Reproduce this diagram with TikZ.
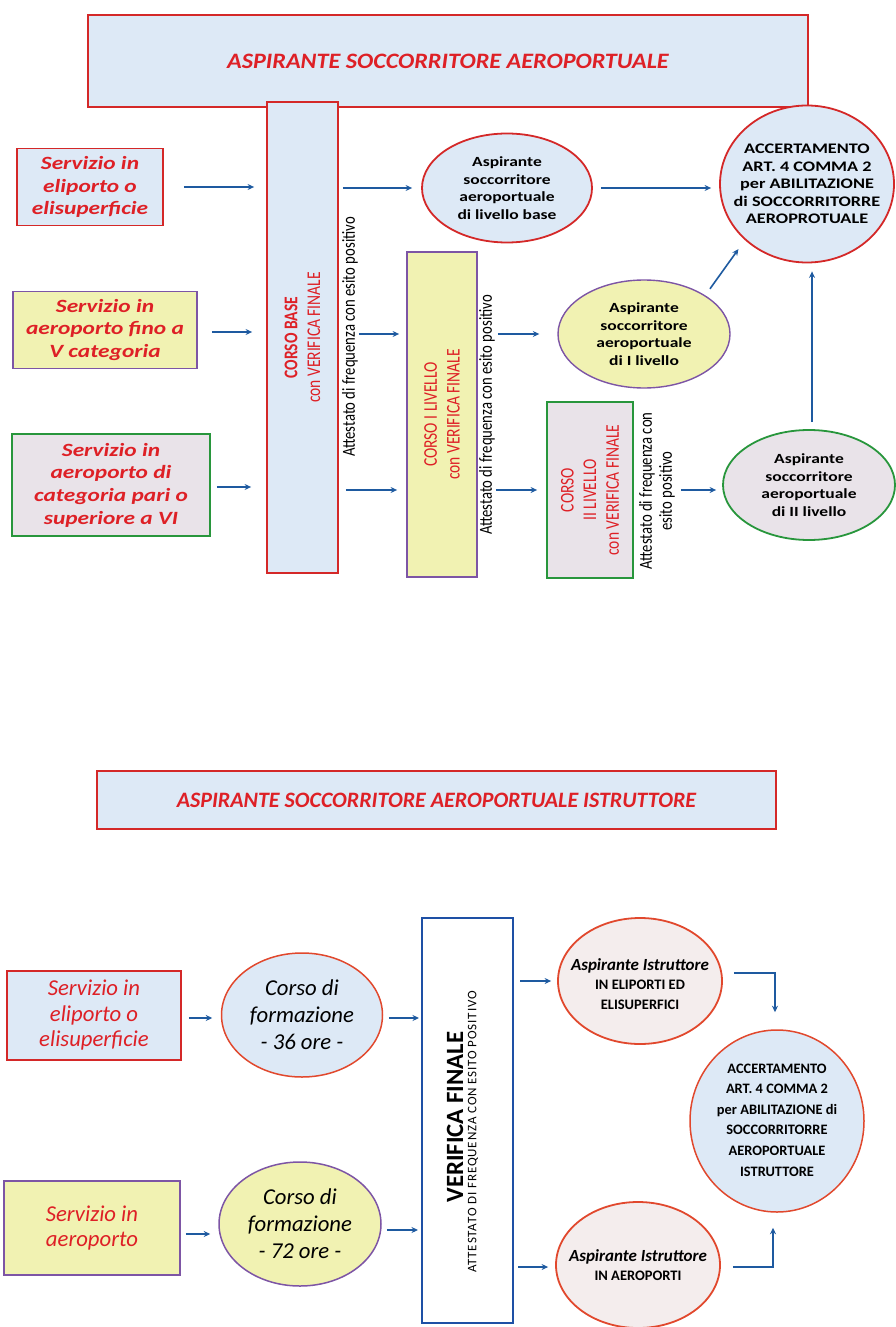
\documentclass[tikz,border=0pt]{standalone}
\usepackage{fontspec}
\setmainfont{Carlito}
\newfontfamily\wfont[FakeStretch=1.25]{Carlito}
\newfontfamily\nfont[FakeStretch=0.8]{Carlito}
\newfontfamily\tfont[FakeStretch=1.1]{Carlito}
\newfontfamily\lsfont[LetterSpace=6.5]{Carlito}
\usetikzlibrary{shapes.geometric,arrows.meta}
\definecolor{txtred}{RGB}{222,32,38}
\definecolor{bred}{RGB}{212,40,40}
\definecolor{bored}{RGB}{225,72,45}
\definecolor{bpurple}{RGB}{125,85,165}
\definecolor{bgreen}{RGB}{40,150,60}
\definecolor{bblue}{RGB}{30,80,165}
\definecolor{arrblue}{RGB}{30,90,160}
\definecolor{lblue}{RGB}{221,233,246}
\definecolor{lyellow}{RGB}{241,242,178}
\definecolor{lgrey}{RGB}{233,227,233}
\definecolor{lpink}{RGB}{244,237,237}
\begin{document}
\begin{tikzpicture}[x=1bp,y=-1bp,
  box/.style={draw, line width=1.8bp, rectangle, inner sep=0pt},
  ell/.style={draw, line width=1.8bp, ellipse, inner sep=0pt},
  arr/.style={draw=arrblue, line width=1.6bp, -{Stealth[length=6.5bp,width=6bp]}},
  lefttxt/.style={text=txtred, align=center, font=\wfont\fontsize{18.7bp}{22.7bp}\selectfont\bfseries\itshape},
  lefttxtb/.style={text=txtred, align=center, font=\fontsize{22.7bp}{25.5bp}\selectfont\itshape},
  etxt/.style={align=center, inner sep=0pt, font=\wfont\fontsize{14bp}{17.6bp}\selectfont\bfseries},
  bartxt/.style={rotate=90, align=center, inner sep=0pt, text=txtred, font=\nfont\fontsize{19.4bp}{22.7bp}\selectfont},
  attxt/.style={rotate=90, align=center, inner sep=0pt, font=\nfont\fontsize{18.4bp}{20bp}\selectfont},
  ktxt/.style={align=center, inner sep=0pt, font=\fontsize{22.7bp}{27bp}\selectfont\itshape},
  itxt/.style={align=center, inner sep=0pt, font=\fontsize{14.5bp}{19.5bp}\selectfont\bfseries},
]
\useasboundingbox (0,0) rectangle (895,1327);

% ---------- titles ----------
\node[box, draw=bred, fill=lblue, minimum width=720bp, minimum height=92bp,
      text=txtred, font=\tfont\fontsize{22bp}{26bp}\selectfont\bfseries\itshape] (t1) at (448,61)
      {ASPIRANTE SOCCORRITORE AEROPORTUALE};
\node[box, draw=bred, fill=lblue, line width=1.5bp, minimum width=679bp, minimum height=58bp,
      text=txtred, font=\fontsize{22bp}{26bp}\selectfont\bfseries\itshape] (t2) at (436.5,800)
      {ASPIRANTE SOCCORRITORE AEROPORTUALE ISTRUTTORE};

% ---------- top section: left boxes ----------
\node[box, draw=bred, fill=lblue, minimum width=146bp, minimum height=77bp, lefttxt] (s1) at (90,187)
  {Servizio in\\eliporto o\\elisuperficie};
\node[box, draw=bpurple, fill=lyellow, minimum width=184bp, minimum height=77bp, lefttxt] (s2) at (105,330)
  {Servizio in\\aeroporto fino a\\V categoria};
\node[box, draw=bgreen, fill=lgrey, minimum width=198bp, minimum height=102bp, lefttxt] (s3) at (111,485)
  {Servizio in\\aeroporto di\\categoria pari o\\superiore a VI};

% ---------- bars ----------
\node[box, draw=bred, fill=lblue, minimum width=71bp, minimum height=471bp] (base) at (302.5,337.5) {};
\node[bartxt] (baset) at (base) {\bfseries CORSO BASE\\con VERIFICA FINALE};
\node[attxt] (at1) at (350,337) {Attestato di frequenza con esito positivo};

\node[box, draw=bpurple, fill=lyellow, minimum width=70bp, minimum height=325bp] (c1) at (442,414.5) {};
\node[bartxt] (c1t) at (c1) {CORSO I LIVELLO\\con VERIFICA FINALE};
\node[attxt] (at2) at (487,415) {Attestato di frequenza con esito positivo};

\node[box, draw=bgreen, fill=lgrey, minimum width=86bp, minimum height=176bp] (c2) at (590,490) {};
\node[bartxt] (c2t) at (c2) {CORSO\\II LIVELLO\\con VERIFICA FINALE};
\node[attxt] (at3) at (657,491) {Attestato di frequenza con\\esito positivo};

% ---------- ellipses ----------
\node[ell, draw=bred, fill=lblue, minimum width=170bp, minimum height=109bp] (e1) at (507,188) {};
\node[etxt] (e1t) at (e1) {Aspirante\\soccorritore\\aeroportuale\\di livello base};

\node[ell, draw=bpurple, fill=lyellow, line width=1.4bp, minimum width=172bp, minimum height=108bp] (e2) at (644,334) {};
\node[etxt] (e2t) at (e2) {Aspirante\\soccorritore\\aeroportuale\\di I livello};

\node[ell, draw=bgreen, fill=lgrey, minimum width=172bp, minimum height=110bp] (e3) at (809,485) {};
\node[etxt] (e3t) at (e3) {Aspirante\\soccorritore\\aeroportuale\\di II livello};

\node[ell, draw=bred, fill=lblue, minimum width=174bp, minimum height=157bp] (acc) at (807,184) {};
\node[etxt, font=\wfont\fontsize{14.6bp}{17.5bp}\selectfont\bfseries] (acct) at (acc)
  {ACCERTAMENTO\\ART. 4 COMMA 2\\per ABILITAZIONE\\di SOCCORRITORRE\\AEROPROTUALE};

% ---------- top arrows ----------
\draw[arr, shorten <=20bp, shorten >=12bp] (s1.east) -- (s1.east -| base.west);
\draw[arr, shorten <=14bp, shorten >=14bp] ([yshift=-2bp]s2.east) -- ([yshift=-2bp]s2.east -| base.west);
\draw[arr, shorten <=6bp, shorten >=15bp] ([yshift=-2bp]s3.east) -- ([yshift=-2bp]s3.east -| base.west);
\draw[arr, shorten <=4bp, shorten >=9bp] (base.east |- e1) -- (e1.west);
\draw[arr, shorten <=20bp, shorten >=7bp] (base.east |- e2) -- (e2 -| c1.west);
\draw[arr, shorten <=7bp, shorten >=9bp] (base.east |- c2) -- (c2 -| c1.west);
\draw[arr, shorten <=8bp, shorten >=8bp] (e1.east) -- (e1.east -| acc.west);
\draw[arr, shorten <=20bp, shorten >=18bp] (c1.east |- e2) -- (e2.west);
\draw[arr, shorten <=18bp, shorten >=9bp] (c1.east |- c2) -- (c2.west);
\draw[arr, shorten <=47bp, shorten >=6bp] (c2.east) -- (c2.east -| e3.west);
\draw[arr, shorten <=8bp, shorten >=11bp] (e2.north east) -- (acc.south west);
\draw[arr, shorten <=7bp, shorten >=8bp] ([xshift=3bp]e3.north) -- ([xshift=3bp]e3.north |- acc.south);

% ---------- bottom section ----------
\node[box, draw=bred, fill=lblue, minimum width=174bp, minimum height=89bp, lefttxtb] (b1) at (94,1015.5)
  {Servizio in\\eliporto o\\elisuperficie};
\node[box, draw=bpurple, fill=lyellow, minimum width=176bp, minimum height=94bp, lefttxtb] (b2) at (92,1228)
  {Servizio in\\aeroporto};

\node[ell, draw=bored, fill=lblue, line width=1.5bp, minimum width=161bp, minimum height=124bp] (k1) at (302,1015) {};
\node[ktxt] (k1t) at (k1) {Corso di\\formazione\\- 36 ore -};
\node[ell, draw=bpurple, fill=lyellow, line width=1.5bp, minimum width=162bp, minimum height=124bp] (k2) at (300,1224) {};
\node[ktxt] (k2t) at (k2) {Corso di\\formazione\\- 72 ore -};

\node[box, draw=bblue, fill=white, line width=2bp, minimum width=91bp, minimum height=405bp] (ver) at (467.5,1120.5) {};
\node[rotate=90, inner sep=0pt, font=\fontsize{24.8bp}{28bp}\selectfont\bfseries] (vt1) at (455,1117) {VERIFICA FINALE};
\node[rotate=90, inner sep=0pt, font=\lsfont\fontsize{13bp}{15bp}\selectfont] (vt2) at (473,1132) {ATTESTATO DI FREQUENZA CON ESITO POSITIVO};

\node[ell, draw=bored, fill=lpink, line width=1.8bp, minimum width=164bp, minimum height=126bp] (i1) at (640,981) {};
\node[itxt] (i1t) at (640,984)
  {{\fontsize{17bp}{19.5bp}\selectfont\itshape Aspirante Istruttore}\\
   IN ELIPORTI ED\\ELISUPERFICI};
\node[ell, draw=bored, fill=lpink, line width=1.8bp, minimum width=164bp, minimum height=126bp] (i2) at (638,1265) {};
\node[itxt] (i2t) at (638,1265)
  {{\fontsize{17bp}{19.5bp}\selectfont\itshape Aspirante Istruttore}\\
   IN AEROPORTI};

\node[ell, draw=bored, fill=lblue, line width=1.5bp, minimum width=174bp, minimum height=182bp] (acc2) at (777,1121) {};
\node[align=center, inner sep=0pt, font=\fontsize{14.4bp}{20.6bp}\selectfont\bfseries] (acc2t) at (777,1120)
  {ACCERTAMENTO\\ART. 4 COMMA 2\\per ABILITAZIONE di\\SOCCORRITORRE\\AEROPORTUALE\\ISTRUTTORE};

% ---------- bottom arrows ----------
\draw[arr, shorten <=7bp, shorten >=8.5bp] ([yshift=-2.5bp]b1.east) -- ([yshift=-2.5bp]b1.east -| k1.west);
\draw[arr, shorten <=5.5bp, shorten >=2bp] ([yshift=-3bp]k1.east) -- ([yshift=-3bp]k1.east -| ver.west);
\draw[arr, shorten <=5bp, shorten >=8bp] ([yshift=-6bp]b2.east) -- ([yshift=-6bp]b2.east -| k2.west);
\draw[arr, shorten <=5bp, shorten >=3bp] ([yshift=-6bp]k2.east) -- ([yshift=-6bp]k2.east -| ver.west);
\draw[arr, shorten <=6bp, shorten >=6bp] (ver.east |- i1) -- (i1.west);
\draw[arr, shorten <=4bp, shorten >=7bp] ([yshift=-2bp]ver.east |- i2) -- ([yshift=-2bp]i2.west);
\draw[arr, shorten <=11bp, shorten >=17bp] ([yshift=8bp]i1.east) -| ([xshift=-2bp]acc2.north);
\draw[arr, shorten <=12bp, shorten >=15bp] ([yshift=-2bp]i2.east) -| ([xshift=-4bp]acc2.south);
\end{tikzpicture}
\end{document}
